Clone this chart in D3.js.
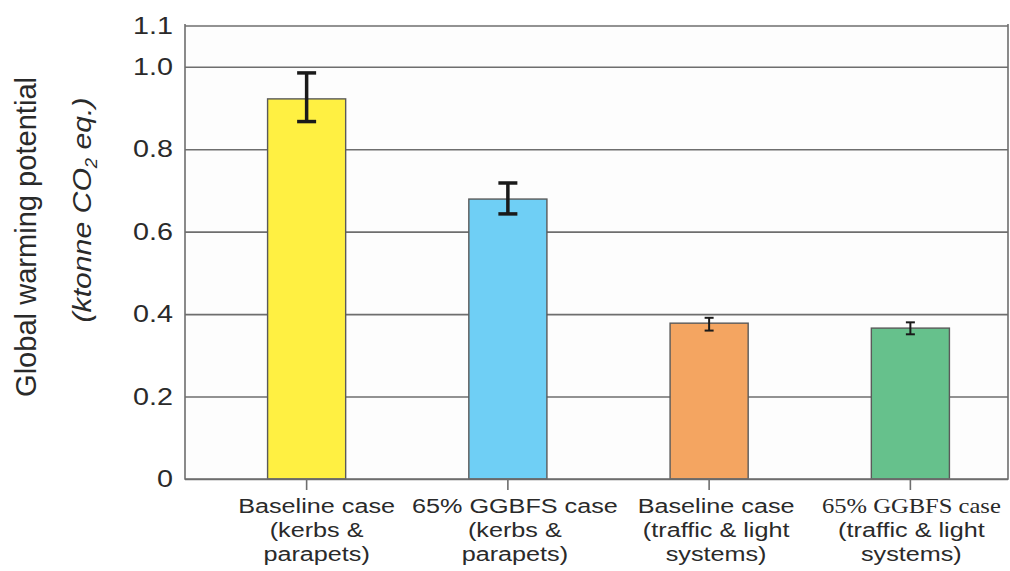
<!DOCTYPE html>
<html>
<head>
<meta charset="utf-8">
<script src="https://cdn.jsdelivr.net/npm/d3@7"></script>
<style>
  body { margin: 0; background: #fff; }
  svg { display: block; }
  text { fill: #2a2a2a; font-family: "Liberation Sans", Arial, sans-serif; }
</style>
</head>
<body>
<script>
// bar data
const categories = ["base_kp", "ggbfs_kp", "base_tl", "ggbfs_tl"];
const values = [0.922, 0.679, 0.378, 0.366];
const errLow = [0.867, 0.643, 0.360, 0.351];
const errHigh = [0.985, 0.718, 0.391, 0.380];
const barColors = ["#fff042", "#6fcff5", "#f4a561", "#66c18c"];
const yTicks = [0, 0.2, 0.4, 0.6, 0.8, 1.0, 1.1];
const labelLines = [
    ["Baseline case", "(kerbs &", "parapets)"],
    ["65% GGBFS case", "(kerbs &", "parapets)"],
    ["Baseline case", "(traffic & light", "systems)"],
    ["65% GGBFS case", "(traffic & light", "systems)"]
];
// the last chart label has its first line set in a serif face
const serifFirstLine = [false, false, false, true];

const width = 1010;
const height = 571;
const plotLeft = 185, plotRight = 1008, plotTop = 24, plotBottom = 479;
const stretch = 1.2; // glyphs in the figure are a bit wide
const labelDx = [10, 7, 7, 1]; // labels sit slightly right of the ticks

const svg = d3.select("body").append("svg")
    .attr("width", width)
    .attr("height", height);

svg.append("rect")
    .attr("x", plotLeft).attr("y", plotTop)
    .attr("width", plotRight - plotLeft).attr("height", plotBottom - plotTop)
    .attr("fill", "#fdfdfd");

const y = d3.scaleLinear().domain([0, 1.1]).range([plotBottom, plotTop + 1.5]);

const x = d3.scaleBand()
    .domain(categories)
    .range([206, 1011])
    .paddingInner(0.612)
    .paddingOuter(0.306);

// gridlines
const grid = svg.append("g")
    .attr("transform", `translate(${plotLeft},0)`)
    .call(d3.axisLeft(y).tickValues(yTicks).tickSize(-(plotRight - plotLeft)).tickFormat(""));
grid.select(".domain").remove();
grid.selectAll("line").attr("stroke", "#6e6e6e").attr("stroke-width", 1.6);

// bars
svg.selectAll(".bar")
    .data(values)
    .enter()
    .append("rect")
    .attr("class", "bar")
    .attr("x", (d, i) => x(categories[i]))
    .attr("y", d => y(d))
    .attr("width", x.bandwidth())
    .attr("height", d => plotBottom - y(d))
    .attr("fill", (d, i) => barColors[i])
    .attr("stroke", "#5a5a5a")
    .attr("stroke-width", 1.4);

// frame
svg.append("path")
    .attr("d", `M${plotLeft},${plotTop}V${plotBottom}H${plotRight}V${plotTop}`)
    .attr("fill", "none")
    .attr("stroke", "#6e6e6e")
    .attr("stroke-width", 1.6);

// x ticks under the axis
const xAxis = svg.append("g")
    .attr("transform", `translate(0,${plotBottom})`)
    .call(d3.axisBottom(x).tickSize(11).tickFormat(""));
xAxis.select(".domain").remove();
xAxis.selectAll("line").attr("stroke", "#6e6e6e").attr("stroke-width", 1.6);

// error bars
const err = svg.selectAll(".err")
    .data(values)
    .enter()
    .append("g")
    .attr("class", "err")
    .attr("stroke", "#1a1a1a")
    .attr("stroke-width", (d, i) => (errHigh[i] - errLow[i]) > 0.05 ? 3.5 : 2)
    .attr("transform", (d, i) => `translate(${x(categories[i]) + x.bandwidth() / 2},0)`);

err.append("line")
    .attr("x1", 0).attr("x2", 0)
    .attr("y1", (d, i) => y(errHigh[i]))
    .attr("y2", (d, i) => y(errLow[i]));

err.each(function(d, i) {
    const g = d3.select(this);
    const w = (errHigh[i] - errLow[i]) > 0.05 ? 9.5 : 4.5;
    [errHigh[i], errLow[i]].forEach(v => {
        g.append("line")
            .attr("x1", -w).attr("x2", w)
            .attr("y1", y(v)).attr("y2", y(v));
    });
});

// y tick labels
svg.selectAll(".ylab")
    .data(yTicks)
    .enter()
    .append("text")
    .attr("class", "ylab")
    .attr("transform", d => `translate(173,${y(d)}) scale(1.25,1)`)
    .attr("dy", "0.36em")
    .attr("text-anchor", "end")
    .attr("font-size", 23)
    .text(d => d === 0 ? "0" : d3.format(".1f")(d));

// x category labels
const lineY = [513, 537, 561];
const lab = svg.selectAll(".xlab")
    .data(labelLines)
    .enter()
    .append("g")
    .attr("class", "xlab");

lab.each(function(lines, i) {
    const cx = x(categories[i]) + x.bandwidth() / 2 + labelDx[i];
    lines.forEach((t, j) => {
        const serif = j === 0 && serifFirstLine[i];
        d3.select(this).append("text")
            .attr("transform", `translate(${cx},${lineY[j]}) scale(${stretch},1)`)
            .attr("text-anchor", "middle")
            .attr("font-size", serif ? 20.5 : 21)
            .style("font-family", serif ? "'Liberation Serif', 'Times New Roman', serif" : null)
            .text(t);
    });
});

// y axis title
svg.append("text")
    .attr("transform", "translate(36,237) scale(1.12,1) rotate(-90)")
    .attr("text-anchor", "middle")
    .attr("font-size", 27)
    .attr("textLength", 320)
    .attr("lengthAdjust", "spacingAndGlyphs")
    .text("Global warming potential");

const sub = svg.append("text")
    .attr("transform", "translate(91,210) scale(1.12,1) rotate(-90)")
    .attr("text-anchor", "middle")
    .attr("font-size", 23)
    .attr("font-style", "italic")
    .attr("textLength", 225)
    .attr("lengthAdjust", "spacingAndGlyphs");
sub.append("tspan").text("(ktonne CO");
sub.append("tspan").attr("font-size", 14).attr("dy", 5).text("2");
sub.append("tspan").attr("dy", -5).text(" eq.)");
</script>
</body>
</html>
